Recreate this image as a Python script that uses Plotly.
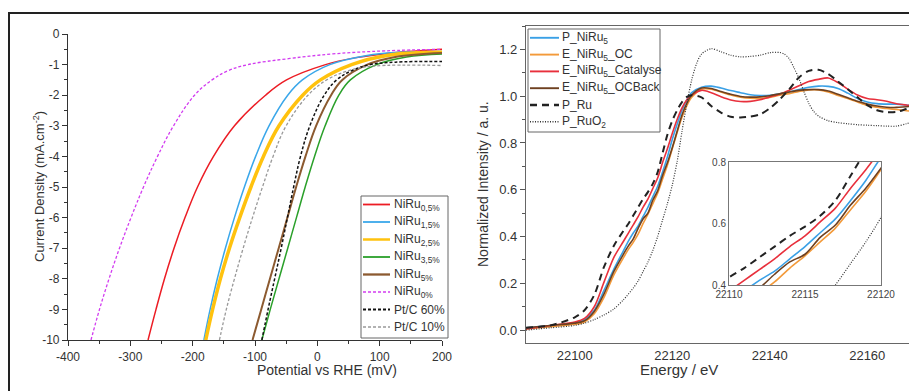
import plotly.graph_objects as go

# ---------------- Left panel data (LSV) ----------------
pot_ru05 = [-271.6, -258.8, -245.2, -229.9, -212.3, -192.2, -166.6, -132.9, -83.1, -49.4, 13.1, 60, 120, 200]
j_ru05 = [-10, -9, -8, -7, -6, -5, -4, -3, -2, -1.5, -1, -0.78, -0.62, -0.5]

pot_ru15 = [-182, -172, -160.5, -147.5, -133, -117, -99, -77.5, -47.5, -24, 20, 80, 130, 200]
j_ru15 = [-10, -9, -8, -7, -6, -5, -4, -3, -2, -1.5, -1, -0.7, -0.6, -0.57]

pot_ru25 = [-179, -168, -155.5, -141, -124.5, -106.5, -86.5, -61.5, -23.5, 5, 55, 112, 200]
j_ru25 = [-10, -9, -8, -7, -6, -5, -4, -3, -2, -1.5, -1, -0.7, -0.6]

pot_ru35 = [-89, -75.5, -61.5, -47.5, -33.5, -19.5, -4.5, 12.5, 34.5, 53, 95, 143, 200]
j_ru35 = [-10, -9, -8, -7, -6, -5, -4, -3, -2, -1.5, -1, -0.75, -0.65]

pot_ru5 = [-104, -90, -76, -62, -48, -34, -19, -2, 22, 40, 80, 125, 200]
j_ru5 = [-10, -9, -8, -7, -6, -5, -4, -3, -2, -1.5, -1, -0.75, -0.62]

pot_ru0 = [-363.1, -349.5, -334.2, -317.4, -298.9, -278.9, -256.4, -230.7, -197.0, -168.9, -143.3, -111.2, -44, 25, 110, 200]
j_ru0 = [-10, -9, -8, -7, -6, -5, -4, -3, -2, -1.5, -1.2, -1, -0.8, -0.65, -0.55, -0.5]

pot_pt60 = [-89, -79, -68.5, -58, -48, -38, -27, -12, 11, 31, 55, 85, 125, 200]
j_pt60 = [-10, -9, -8, -7, -6, -5, -4, -3, -2, -1.5, -1.2, -1.0, -0.92, -0.9]

pot_pt10 = [-157, -146, -133, -119, -104, -88, -71, -50, -15, 15, 50, 90, 200]
j_pt10 = [-10, -9, -8, -7, -6, -5, -4, -3, -2, -1.5, -1.2, -1.05, -1.03]

pot_ticks = [-400, -300, -200, -100, 0, 100, 200]
pot_tick_labels = ["-400", "-300", "-200", "-100", "0", "100", "200"]
j_ticks = [0, -1, -2, -3, -4, -5, -6, -7, -8, -9, -10]
j_tick_labels = ["0", "-1", "-2", "-3", "-4", "-5", "-6", "-7", "-8", "-9", "-10"]

# ---------------- Right panel data (XANES) ----------------
energy = [22090, 22095, 22100, 22102, 22104, 22106, 22108, 22110, 22111, 22112, 22113,
          22114, 22115, 22116, 22117, 22118, 22119, 22120, 22121, 22122, 22123, 22124,
          22126, 22128, 22130, 22132, 22134, 22136, 22138, 22140, 22142, 22144, 22146,
          22148, 22150, 22152, 22154, 22156, 22158, 22160, 22162, 22164, 22166, 22168, 22170]

i_p_niru5 = [0.01, 0.02, 0.03, 0.045, 0.085, 0.17, 0.26, 0.34, 0.38, 0.415, 0.445,
             0.485, 0.525, 0.57, 0.615, 0.675, 0.74, 0.815, 0.88, 0.94, 0.985, 1.015,
             1.038, 1.043, 1.035, 1.024, 1.015, 1.006, 1.003, 1.004, 1.01, 1.018, 1.028,
             1.038, 1.043, 1.042, 1.033, 1.013, 0.99, 0.975, 0.968, 0.966, 0.966, 0.962, 0.957]

i_e_oc = [0.005, 0.015, 0.025, 0.035, 0.07, 0.14, 0.235, 0.31, 0.345, 0.375, 0.41,
          0.455, 0.495, 0.54, 0.585, 0.645, 0.705, 0.775, 0.845, 0.91, 0.96, 0.995,
          1.03, 1.03, 1.018, 1.005, 0.996, 0.991, 0.99, 0.995, 1.004, 1.011, 1.02,
          1.027, 1.027, 1.018, 1.003, 0.99, 0.975, 0.96, 0.953, 0.947, 0.943, 0.938, 0.933]

i_e_cat = [0.005, 0.02, 0.035, 0.05, 0.10, 0.205, 0.31, 0.38, 0.415, 0.45, 0.485,
           0.525, 0.56, 0.605, 0.65, 0.715, 0.775, 0.84, 0.90, 0.95, 0.985, 1.005,
           1.025, 1.015, 0.998, 0.984, 0.977, 0.978, 0.985, 0.997, 1.008, 1.025, 1.045,
           1.063, 1.072, 1.078, 1.058, 1.03, 1.005, 0.99, 0.985, 0.978, 0.968, 0.962, 0.957]

i_e_ocback = [0.01, 0.02, 0.03, 0.04, 0.08, 0.155, 0.25, 0.325, 0.36, 0.39, 0.435,
              0.475, 0.50, 0.555, 0.595, 0.66, 0.715, 0.78, 0.85, 0.92, 0.97, 1.005,
              1.035, 1.033, 1.02, 1.008, 0.999, 0.996, 0.997, 1.002, 1.01, 1.018, 1.025,
              1.028, 1.028, 1.022, 1.008, 0.993, 0.978, 0.966, 0.958, 0.953, 0.952, 0.955, 0.957]

i_p_ru = [0.01, 0.02, 0.055, 0.085, 0.15, 0.27, 0.36, 0.425, 0.455, 0.49, 0.525,
          0.56, 0.59, 0.625, 0.675, 0.755, 0.835, 0.895, 0.94, 0.975, 0.997, 1.004,
          0.995, 0.958, 0.93, 0.912, 0.909, 0.913, 0.922, 0.948, 0.985, 1.03, 1.08,
          1.108, 1.113, 1.095, 1.063, 1.03, 0.995, 0.962, 0.94, 0.932, 0.933, 0.945, 0.957]

energy_ruo2 = [22090, 22095, 22100, 22102, 22104, 22106, 22108, 22110, 22112, 22113, 22114,
               22115, 22116, 22117, 22118, 22119, 22120, 22121, 22122, 22123, 22124, 22125,
               22126, 22128, 22130, 22132, 22134, 22136, 22138, 22140, 22142, 22143, 22144,
               22145, 22146, 22147, 22148, 22149, 22150, 22152, 22154, 22156, 22158, 22160,
               22162, 22164, 22166, 22168, 22170]
i_p_ruo2 = [0.0, 0.01, 0.02, 0.03, 0.045, 0.065, 0.09, 0.13, 0.18, 0.21, 0.25,
            0.29, 0.34, 0.40, 0.47, 0.54, 0.62, 0.72, 0.85, 0.97, 1.07, 1.14,
            1.18, 1.203, 1.19, 1.175, 1.168, 1.17, 1.175, 1.186, 1.187, 1.18, 1.16,
            1.12, 1.075, 1.02, 0.97, 0.935, 0.915, 0.895, 0.887, 0.882, 0.878, 0.876,
            0.874, 0.872, 0.872, 0.882, 0.897]

W, H = 917, 391
OFF = 8  # page body margin offset
FONT = "Liberation Sans, Arial, sans-serif"
TXT = "#333333"


def dx(p):
    return (p - OFF) / W


def dy(p):
    return 1 - (p - OFF) / H


fig = go.Figure()

left_series = [
    ("NiRu<sub>0,5%</sub>", pot_ru05, j_ru05, "#ec1c24", "solid", 1.5),
    ("NiRu<sub>1,5%</sub>", pot_ru15, j_ru15, "#3aa7ea", "solid", 1.5),
    ("NiRu<sub>2,5%</sub>", pot_ru25, j_ru25, "#ffc20e", "solid", 3.5),
    ("NiRu<sub>3,5%</sub>", pot_ru35, j_ru35, "#2aa02a", "solid", 1.5),
    ("NiRu<sub>5%</sub>", pot_ru5, j_ru5, "#8c5a30", "solid", 2.0),
    ("NiRu<sub>0%</sub>", pot_ru0, j_ru0, "#d23cf0", "3px,2px", 1.3),
    ("Pt/C 60%", pot_pt60, j_pt60, "#111111", "3px,2px", 1.5),
    ("Pt/C 10%", pot_pt10, j_pt10, "#999999", "3px,2px", 1.3),
]
for name, xs, ys, col, dash, w in left_series:
    fig.add_trace(go.Scatter(x=xs, y=ys, mode="lines", name=name, showlegend=False,
                             line=dict(color=col, width=w, dash=dash, shape="spline", smoothing=1.1),
                             xaxis="x", yaxis="y"))

right_series = [
    ("P_NiRu<sub>5</sub>", energy, i_p_niru5, "#3aa0e6", "solid", 1.6),
    ("E_NiRu<sub>5</sub>_OC", energy, i_e_oc, "#f39a3a", "solid", 1.6),
    ("E_NiRu<sub>5</sub>_Catalyse", energy, i_e_cat, "#e8303c", "solid", 1.6),
    ("E_NiRu<sub>5</sub>_OCBack", energy, i_e_ocback, "#6e4020", "solid", 1.6),
    ("P_Ru", energy, i_p_ru, "#222222", "7px,5px", 2.0),
    ("P_RuO<sub>2</sub>", energy_ruo2, i_p_ruo2, "#333333", "1px,1.5px", 1.2),
]
for xa, ya in (("x2", "y2"), ("x3", "y3")):
    for name, xs, ys, col, dash, w in right_series:
        fig.add_trace(go.Scatter(x=xs, y=ys, mode="lines", name=name, showlegend=False,
                                 line=dict(color=col, width=w, dash=dash, shape="spline", smoothing=0.8),
                                 xaxis=xa, yaxis=ya))

tickfont_l = dict(family=FONT, size=12, color=TXT)
tickfont_r = dict(family=FONT, size=13, color=TXT)

fig.update_layout(
    width=W, height=H,
    margin=dict(l=0, r=0, t=0, b=0, autoexpand=False),
    paper_bgcolor="white", plot_bgcolor="white",
    font=dict(family=FONT, color=TXT),
    showlegend=False,
    xaxis=dict(domain=[dx(68), dx(442)], range=[-400, 200], anchor="y",
               tickvals=pot_ticks, ticktext=pot_tick_labels,
               showline=True, linecolor="#333", linewidth=1.2, ticks="outside", ticklen=5,
               tickcolor="#333", tickfont=tickfont_l, showgrid=False, zeroline=False,
               minor=dict(ticks="outside", ticklen=3, dtick=50, tickcolor="#333")),
    yaxis=dict(domain=[dy(340), dy(34)], range=[-10, 0], anchor="x",
               tickvals=j_ticks, ticktext=j_tick_labels,
               showline=True, linecolor="#333", linewidth=1.2, ticks="outside", ticklen=5,
               tickcolor="#333", tickfont=tickfont_l, showgrid=False, zeroline=False,
               minor=dict(ticks="outside", ticklen=3, dtick=0.5, tickcolor="#333")),
    xaxis2=dict(domain=[dx(526), dx(916)], range=[22090, 22170], anchor="y2",
                tickvals=[22100, 22120, 22140, 22160], tickformat="d",
                showline=True, mirror=True, linecolor="#666", linewidth=1.2, ticks="",
                tickfont=tickfont_r, showgrid=False, zeroline=False),
    yaxis2=dict(domain=[dy(343), dy(26)], range=[-0.055, 1.3], anchor="x2",
                tickvals=[0, 0.2, 0.4, 0.6, 0.8, 1.0, 1.2], tickformat=".1f",
                showline=True, mirror=True, linecolor="#666", linewidth=1.2, ticks="outside",
                ticklen=5, tickcolor="#555", tickfont=tickfont_r, showgrid=False, zeroline=False,
                minor=dict(ticks="outside", ticklen=3, dtick=0.1, tickcolor="#555")),
    xaxis3=dict(domain=[dx(729), dx(881)], range=[22110, 22120], anchor="y3",
                tickvals=[22110, 22115, 22120], tickformat="d",
                showline=True, mirror=True, linecolor="#777", linewidth=1, ticks="",
                tickfont=dict(family=FONT, size=10, color="#444"), showgrid=False, zeroline=False),
    yaxis3=dict(domain=[dy(285), dy(162)], range=[0.4, 0.8], anchor="x3",
                tickvals=[0.4, 0.6, 0.8], tickformat=".1f",
                showline=True, mirror=True, linecolor="#777", linewidth=1, ticks="",
                tickfont=dict(family=FONT, size=10, color="#444"), showgrid=False, zeroline=False),
)

annotations = [
    dict(text="Potential vs RHE (mV)", x=dx(255), y=dy(380), xref="paper", yref="paper",
         showarrow=False, font=dict(family=FONT, size=14, color=TXT)),
    dict(text="Current Density (mA.cm<sup>-2</sup>)", x=dx(29), y=dy(187), xref="paper", yref="paper",
         showarrow=False, textangle=-90, font=dict(family=FONT, size=13, color=TXT)),
    dict(text="Energy / eV", x=dx(720), y=dy(380), xref="paper", yref="paper",
         showarrow=False, font=dict(family=FONT, size=15, color=TXT)),
    dict(text="Normalized Intensity / a. u.", x=dx(483), y=dy(184), xref="paper", yref="paper",
         showarrow=False, textangle=-90, font=dict(family=FONT, size=14, color=TXT)),
]
shapes = []


def draw_legend(series, box, first_y, step, line_x0, line_x1, text_x, fsize):
    x0, y0, x1, y1 = box
    shapes.append(dict(type="rect", xref="paper", yref="paper", layer="above",
                       x0=dx(x0), x1=dx(x1), y0=dy(y1), y1=dy(y0),
                       fillcolor="white", line=dict(color="#666", width=1)))
    for k, (name, xs, ys, col, dash, w) in enumerate(series):
        yy = first_y + k * step
        shapes.append(dict(type="line", xref="paper", yref="paper", layer="above",
                           x0=dx(line_x0), x1=dx(line_x1), y0=dy(yy), y1=dy(yy),
                           line=dict(color=col, width=min(w, 2.5) if w > 2 else w + 0.3, dash=dash)))
        annotations.append(dict(text=name, x=dx(text_x), y=dy(yy), xref="paper", yref="paper",
                                xanchor="left", yanchor="middle", showarrow=False,
                                font=dict(family=FONT, size=fsize, color=TXT)))


draw_legend(left_series, (361, 196, 448, 338), 204.5, 17.5, 363, 390, 392, 12)
draw_legend(right_series, (528, 29, 660, 132), 37.8, 16.8, 530, 559, 560, 12)

# outer frame (top and left edges)
shapes.append(dict(type="line", xref="paper", yref="paper", x0=dx(8), x1=1.0, y0=dy(13), y1=dy(13),
                   line=dict(color="#222", width=2)))
shapes.append(dict(type="line", xref="paper", yref="paper", x0=dx(9), x1=dx(9), y0=0, y1=dy(13),
                   line=dict(color="#222", width=2)))

fig.update_layout(annotations=annotations, shapes=shapes)

fig.write_html("out.html")
